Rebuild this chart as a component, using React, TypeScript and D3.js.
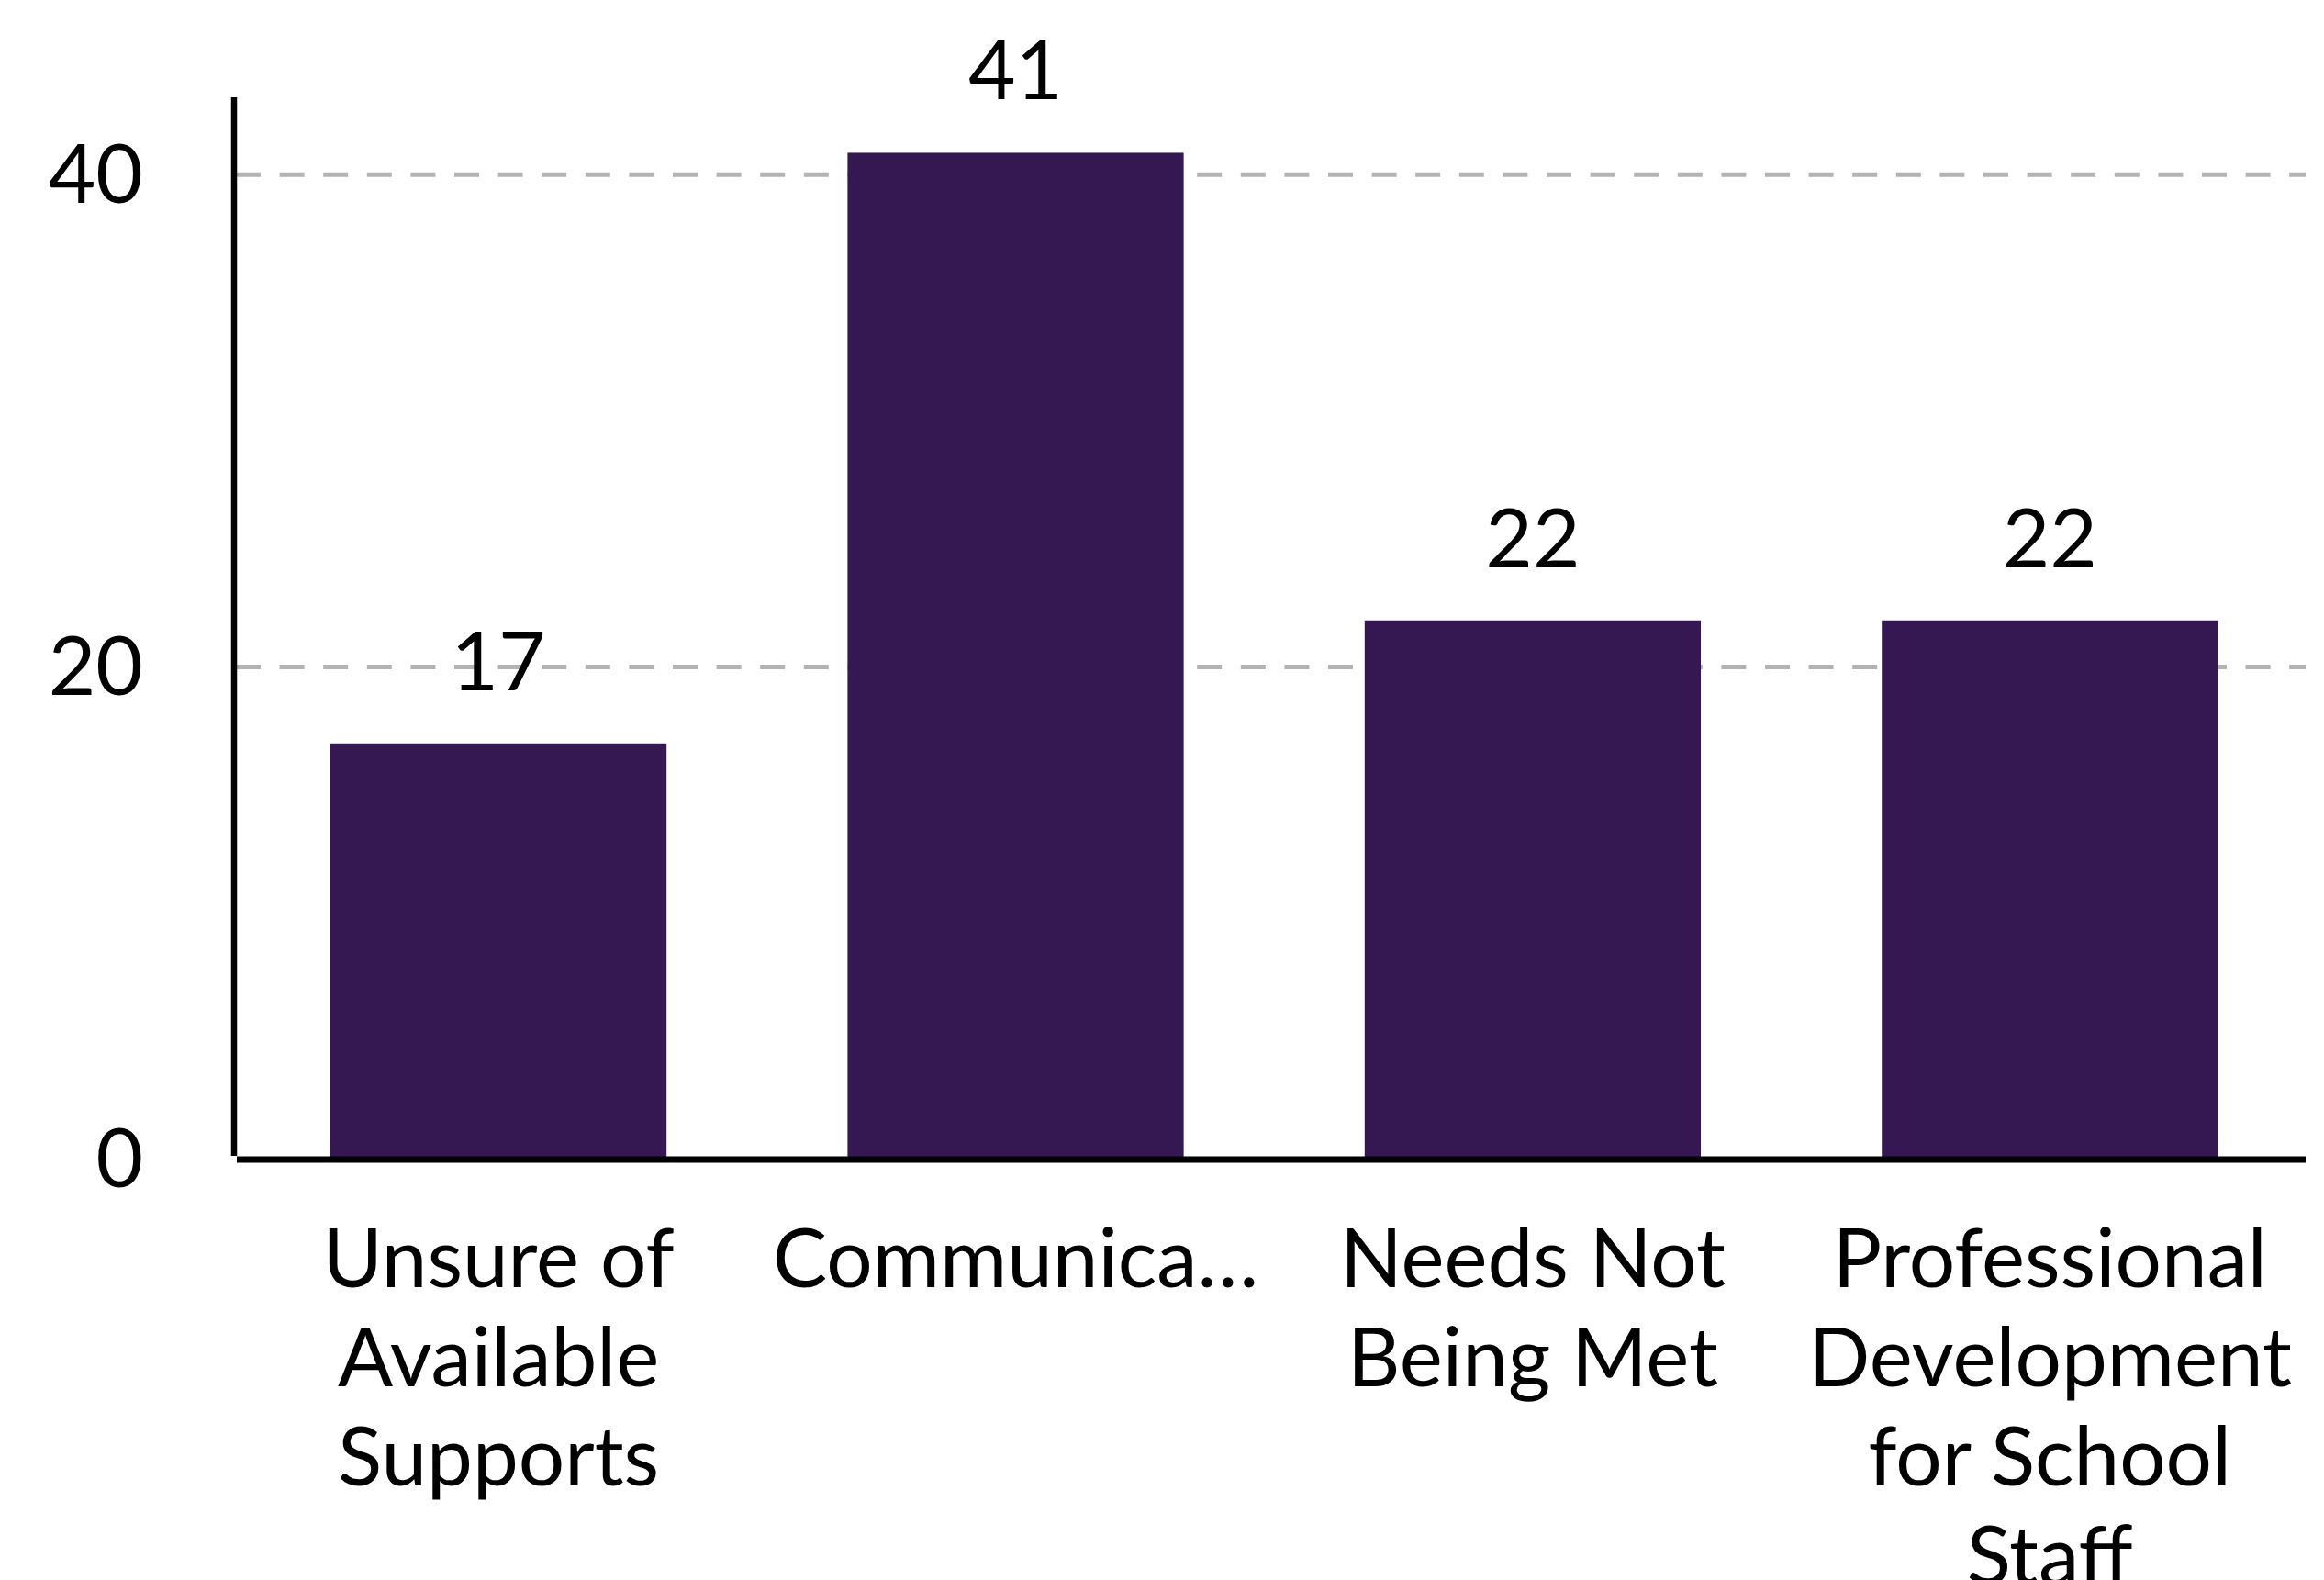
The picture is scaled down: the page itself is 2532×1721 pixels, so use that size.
import React from "react";
import * as d3 from "d3";

const categories = [
  "Unsure of Available Supports",
  "Communica…",
  "Needs Not Being Met",
  "Professional Development for School Staff",
];
const values = [17, 41, 22, 22];
const yTicks = [0, 20, 40];

const W = 2532;
const H = 1721;
const FONT = "Lato, 'Noto Sans', sans-serif";
const FS = 89;

function wrap(text: string, maxW: number): string[] {
  const canvas = document.createElement("canvas");
  const ctx = canvas.getContext("2d")!;
  ctx.font = `${FS}px Lato`;
  const words = text.split(" ");
  const lines: string[] = [];
  let cur = "";
  for (const w of words) {
    const t = cur ? cur + " " + w : w;
    if (ctx.measureText(t).width > maxW && cur) {
      lines.push(cur);
      cur = w;
    } else cur = t;
  }
  if (cur) lines.push(cur);
  return lines;
}

export default function App() {
  const axisX = 255;
  const baseY = 1263;
  const right = 2512;
  const x = d3
    .scaleBand<string>()
    .domain(categories)
    .range([261.4, 2515])
    .paddingInner(0.35)
    .paddingOuter(0.175);
  const y = d3.scaleLinear().domain([0, d3.max(values)! * 1.055]).range([1265.5, 106]);
  const gy = (t: number) => y(t) - 3;

  return (
    <svg
      width={W}
      height={H}
      style={{ position: "absolute", left: 0, top: 0, background: "#fff" }}
      fontFamily={FONT}
    >
      {yTicks
        .filter((t) => t > 0)
        .map((t) => (
          <line
            key={"g" + t}
            x1={axisX + 2}
            x2={right}
            y1={gy(t)}
            y2={gy(t)}
            stroke="#b3b3b3"
            strokeWidth={5}
            strokeDasharray="27,20.6"
          />
        ))}
      {categories.map((c, i) => (
        <rect
          key={c}
          x={x(c)}
          y={y(values[i])}
          width={x.bandwidth()}
          height={y(0) - y(values[i])}
          fill="#351852"
        />
      ))}
      {categories.map((c, i) => (
        <text
          key={"v" + c}
          x={x(c)! + x.bandwidth() / 2}
          y={y(values[i]) - 58}
          textAnchor="middle"
          fontSize={FS}
          fill="#000"
        >
          {values[i]}
        </text>
      ))}
      <line x1={axisX} x2={axisX} y1={y.range()[1]} y2={1259} stroke="#000" strokeWidth={6.5} />
      <line x1={258} x2={right} y1={baseY} y2={baseY} stroke="#000" strokeWidth={7} />
      {yTicks.map((t) => (
        <text
          key={"t" + t}
          x={156}
          y={gy(t)}
          dy="0.34em"
          textAnchor="end"
          fontSize={FS}
          fill="#000"
        >
          {t}
        </text>
      ))}
      {categories.map((c) => {
        const lines = wrap(c, 550);
        return (
          <text
            key={"l" + c}
            x={x(c)! + x.bandwidth() / 2}
            y={1402}
            textAnchor="middle"
            fontSize={FS}
            fill="#000"
          >
            {lines.map((ln, k) => (
              <tspan key={k} x={x(c)! + x.bandwidth() / 2} dy={k === 0 ? 0 : 108}>
                {ln}
              </tspan>
            ))}
          </text>
        );
      })}
    </svg>
  );
}
